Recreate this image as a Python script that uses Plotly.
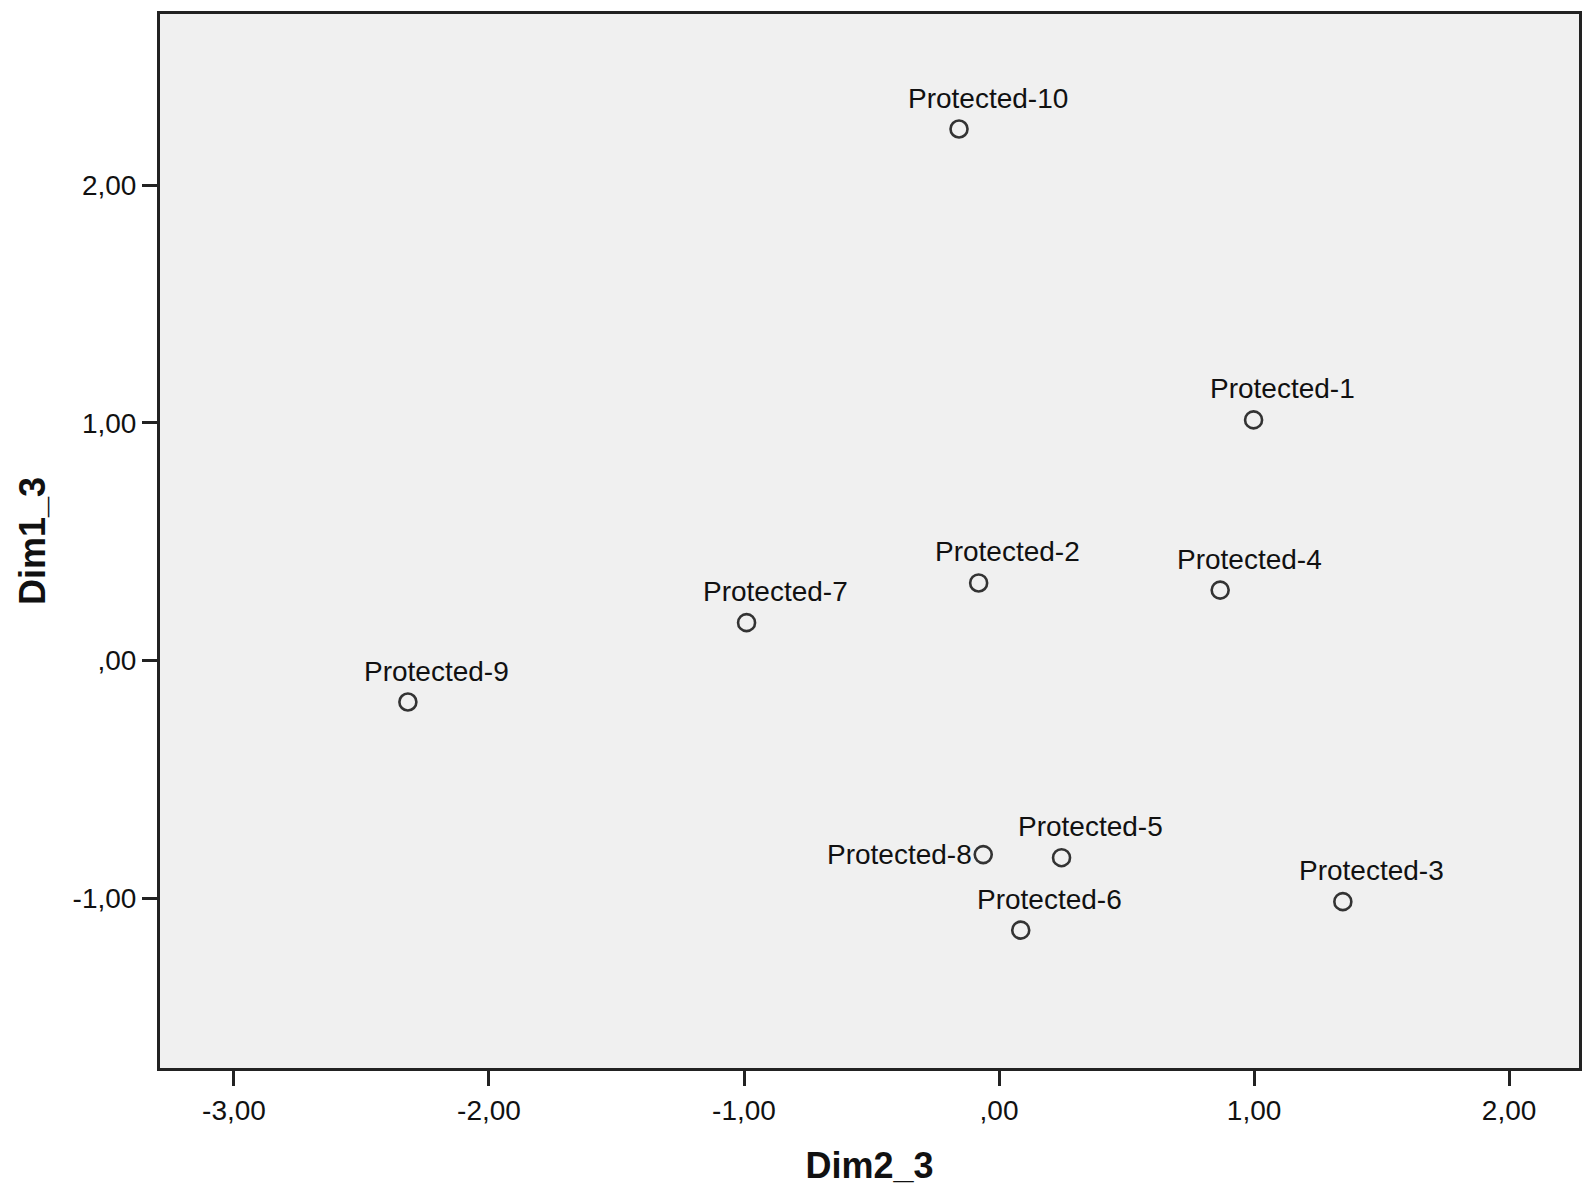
import plotly.graph_objects as go

# object scores from the reference picture
names = ["Protected-1", "Protected-2", "Protected-3", "Protected-4", "Protected-5",
         "Protected-6", "Protected-7", "Protected-8", "Protected-9", "Protected-10"]
dim2 = [0.998, -0.080, 1.348, 0.867, 0.245, 0.085, -0.990, -0.062, -2.318, -0.157]
dim1 = [1.012, 0.326, -1.015, 0.296, -0.830, -1.135, 0.159, -0.817, -0.175, 2.236]

x_ticks = [-3, -2, -1, 0, 1, 2]
x_ticktext = ["-3,00", "-2,00", "-1,00", ",00", "1,00", "2,00"]
y_ticks = [-1, 0, 1, 2]
y_ticktext = ["-1,00", ",00", "1,00", "2,00"]

font = "Liberation Sans, Arial, sans-serif"

fig = go.Figure()
fig.add_trace(go.Scatter(
    x=dim2, y=dim1, mode="markers",
    marker=dict(symbol="circle-open", size=17, color="#333333", line=dict(width=2.6)),
    showlegend=False, hoverinfo="text", text=names))

for n, xv, yv in zip(names, dim2, dim1):
    if n == "Protected-8":
        # this one sits left of its point
        fig.add_annotation(x=xv, y=yv, text=n, showarrow=False, xanchor="right",
                           yanchor="middle", xshift=-9, yshift=0,
                           font=dict(family=font, size=28, color="#111111"))
    else:
        fig.add_annotation(x=xv, y=yv, text=n, showarrow=False, xanchor="center",
                           yanchor="middle", xshift=29, yshift=31,
                           font=dict(family=font, size=28, color="#111111"))

axis_style = dict(showline=True, linecolor="#222222", linewidth=3, mirror=True,
                  ticks="outside", ticklen=15, tickwidth=3, tickcolor="#222222",
                  showgrid=False, zeroline=False,
                  tickfont=dict(family=font, size=28, color="#111111"))

fig.update_xaxes(range=[-3.290, 2.274], tickvals=x_ticks, ticktext=x_ticktext,
                 title=dict(text="<b>Dim2_3</b>", font=dict(family=font, size=36, color="#111111"),
                            standoff=29),
                 **axis_style)
fig.update_yaxes(range=[-1.715, 2.720], tickvals=y_ticks, ticktext=y_ticktext,
                 title=dict(text="<b>Dim1_3</b>", font=dict(family=font, size=36, color="#111111"),
                            standoff=16),
                 **axis_style)

fig.update_layout(
    width=1595, height=1200,
    margin=dict(l=160, r=16, t=11, b=132),
    plot_bgcolor="#f0f0f0", paper_bgcolor="white",
)

# page has a default body margin, drop it so the figure fills the window
fig.write_html("out.html", config={"displayModeBar": False},
               post_script="document.body.style.margin='0';document.body.style.overflow='hidden';")
